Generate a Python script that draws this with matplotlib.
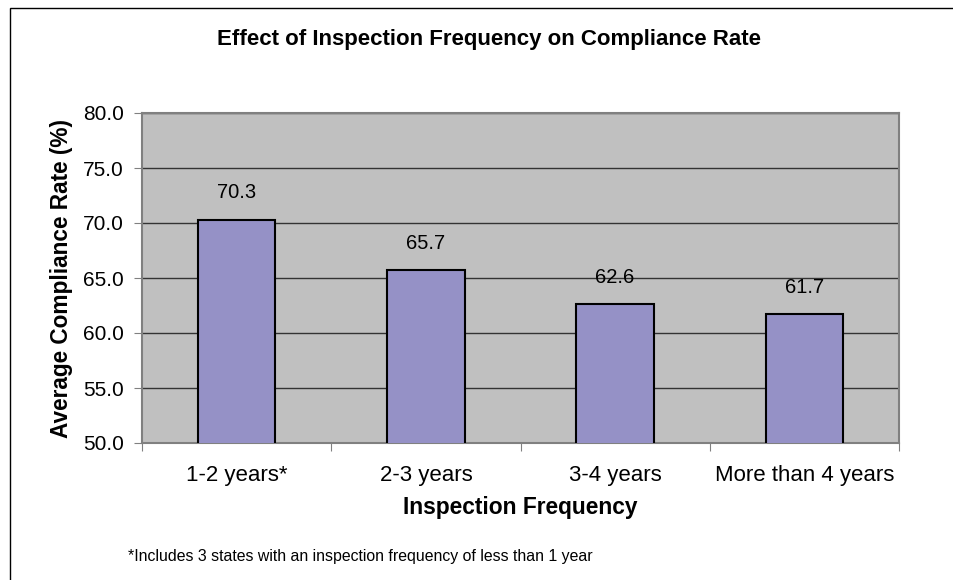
import matplotlib.pyplot as plt
from matplotlib.patches import Rectangle
import numpy as np

plt.rcParams['font.family'] = ['Liberation Sans', 'DejaVu Sans']

categories = ['1-2 years*', '2-3 years', '3-4 years', 'More than 4 years']
rates = [70.3, 65.7, 62.6, 61.7]

W, H = 954, 580
fig = plt.figure(figsize=(W / 100, H / 100), dpi=100)

# outer chart frame (cut off on the right and bottom)
fig.patches.append(Rectangle((10 / W, -0.1), 1.2, (H - 8) / H + 0.1, transform=fig.transFigure,
                             fill=False, edgecolor='black', linewidth=1.0))

# plot area
left, right, top, bottom = 142, 899, 113, 443
ax = fig.add_axes([left / W, 1 - bottom / H, (right - left) / W, (bottom - top) / H])
ax.set_facecolor('#C0C0C0')

x = np.arange(len(categories))
ax.bar(x, rates, width=0.41, color='#9591C6', edgecolor='black', linewidth=1.5, zorder=3)
for xi, v in zip(x, rates):
    ax.text(xi, v + 1.6, f'{v:.1f}', ha='center', va='bottom', fontsize=14.5, zorder=4)

ax.set_xlim(-0.5, len(categories) - 0.5)
ax.set_ylim(50, 80)
ax.set_yticks(np.arange(50, 80.1, 5))
ax.set_yticklabels([f'{t:.1f}' for t in np.arange(50, 80.1, 5)], fontsize=15)
ax.yaxis.grid(True, color='#333333', linewidth=1.0, zorder=1)
ax.set_axisbelow(True)

ax.set_xticks(np.arange(-0.5, len(categories)), minor=False)
ax.set_xticklabels([])
ax.set_xticks(x, minor=True)
ax.set_xticklabels(categories, minor=True, fontsize=16)
ax.tick_params(axis='x', which='minor', length=0, pad=16)
ax.tick_params(axis='x', which='major', length=6, color='#808080', direction='out')
ax.tick_params(axis='y', length=6, color='#808080', direction='out', pad=7)

for s in ax.spines.values():
    s.set_color('#808080')
    s.set_linewidth(1.5)

ax.set_xlabel('Inspection Frequency', fontsize=16.4, fontweight='bold', labelpad=7)
ax.set_ylabel('Average Compliance Rate (%)', fontsize=16.3, fontweight='bold', labelpad=7)

fig.text(489 / W, 1 - 40 / H, 'Effect of Inspection Frequency on Compliance Rate',
         ha='center', va='center', fontsize=16, fontweight='bold')
fig.text(128 / W, 1 - 556 / H, '*Includes 3 states with an inspection frequency of less than 1 year',
         ha='left', va='center', fontsize=11.4)

fig.savefig('out.png', dpi=100)
